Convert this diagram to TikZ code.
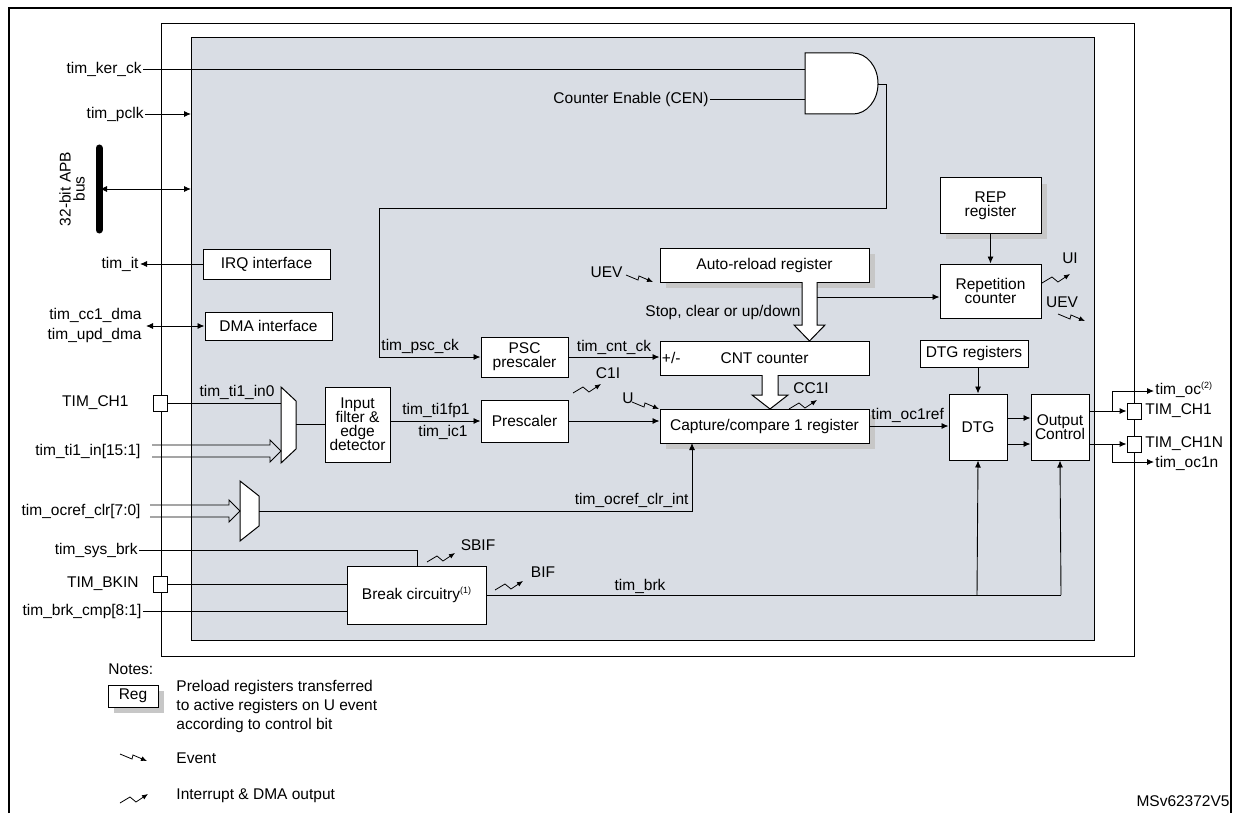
\documentclass[tikz,border=0pt]{standalone}
\usepackage{fontspec}
\setmainfont{Liberation Sans}
\usetikzlibrary{arrows.meta,shadows}
\definecolor{grayfill}{HTML}{D9DDE4}
\newcommand{\supn}[1]{\raisebox{6pt}{\fontsize{9}{9}\selectfont(#1)}}
\begin{document}
\begin{tikzpicture}[x=1pt,y=-1pt,font=\fontsize{15.5}{17}\selectfont,
  line width=0.9pt,
  box/.style={draw,fill=white,align=center,inner sep=1pt,line width=1pt},
  shbox/.style={box,drop shadow={shadow xshift=6pt,shadow yshift=-6pt,fill=black!22,opacity=1}},
  pad/.style={draw,fill=white,minimum width=14pt,minimum height=16pt,inner sep=0pt},
  arr/.style={-{Latex[length=7pt,width=6pt]}},
  lbl/.style={inner sep=1pt},
  evt/.pic={\draw[line width=0.8pt,-{Latex[length=6pt,width=5pt]}] (0,0)--(12,5)--(13,1)--(27,7);},
  irqs/.pic={\draw[line width=0.8pt,-{Latex[length=6pt,width=5pt]}] (0,6)--(10,0)--(16,5)--(28,-3);}
]
\useasboundingbox (0,0) rectangle (1238,813);
% frames
\draw[line width=1.8pt] (9,813)--(9,8)--(1231,8)--(1231,813);
\draw (161,23) rectangle (1134,656);
\draw[fill=grayfill,line width=1pt] (191,38) rectangle (1094,640);

% AND gate
\draw[fill=white,line width=1pt] (805,53)--(853,53) arc[start angle=90,end angle=-90,x radius=25,y radius=-30.5]--(805,114)--cycle;
\coordinate (andout) at (878,84);
\coordinate (andin1) at (805,69);
\coordinate (andin2) at (805,99);

% boxes
\node[box,minimum width=127,minimum height=30] (irq) at (266.5,264) {IRQ interface};
\node[box,minimum width=127,minimum height=28] (dma) at (268.5,326) {DMA interface};
\node[box,minimum width=87,minimum height=40] (psc) at (524.5,357) {PSC\\[-3pt]prescaler};
\node[box,minimum width=65,minimum height=75] (filt) at (357.5,424.5) {Input\\[-3pt]filter \&\\[-3pt]edge\\[-3pt]detector};
\node[box,minimum width=87,minimum height=42] (pre) at (524.5,421) {Prescaler};
\node[shbox,minimum width=209,minimum height=34] (arl) at (764.5,265) {Auto-reload register};
\node[box,minimum width=209,minimum height=34] (cnt) at (764.5,358) {CNT counter};
\node[anchor=west,inner sep=2pt] at (cnt.west) {+/-};
\node[shbox,minimum width=209,minimum height=34] (cap) at (764.5,426) {Capture/compare 1 register};
\node[shbox,minimum width=101,minimum height=55] (rep) at (990.5,205.5) {REP\\[-3pt]register};
\node[box,minimum width=101,minimum height=54] (repc) at (990.5,291) {Repetition\\[-3pt]counter};
\node[box,minimum width=108,minimum height=27] (dtgr) at (974,353.5) {DTG registers};
\node[box,minimum width=58,minimum height=66] (dtg) at (978,427) {DTG};
\node[box,minimum width=58,minimum height=66] (oc) at (1060,427) {Output\\[-3pt]Control};
\node[box,minimum width=139,minimum height=58] (brk) at (416.5,595) {Break circuitry\supn{1}};

% muxes
\draw[fill=white,line width=1pt] (281,387)--(296,401)--(296,449)--(281,463)--cycle;
\coordinate (mux1o) at (296,424);
\draw[fill=white,line width=1pt] (240,481)--(259,496)--(259,526)--(240,541)--cycle;
\coordinate (mux2o) at (259,511);

% left labels
\node[lbl,anchor=east] (lker) at (143,69) {tim\_ker\_ck};
\node[lbl,anchor=east] (lpclk) at (145,114) {tim\_pclk};
\node[lbl,anchor=east] (lit) at (140,264) {tim\_it};
\node[lbl,anchor=east] at (143,315) {tim\_cc1\_dma};
\node[lbl,anchor=east] (ldma) at (143,335) {tim\_upd\_dma};
\node[lbl,anchor=east] at (130,403) {TIM\_CH1};
\node[lbl,anchor=east] at (142,451) {tim\_ti1\_in[15:1]};
\node[lbl,anchor=east] at (142,511) {tim\_ocref\_clr[7:0]};
\node[lbl,anchor=east] (lsys) at (139,550) {tim\_sys\_brk};
\node[lbl,anchor=east] at (140,584) {TIM\_BKIN};
\node[lbl,anchor=east] (lcmp) at (143,611) {tim\_brk\_cmp[8:1]};

% APB bus
\draw[line width=7pt,line cap=round] (99,148)--(99,230);
\node[rotate=90,align=center] at (72,189) {32-bit APB\\[-3pt]bus};
\coordinate (bus) at (100,189);
\coordinate (gl1) at (191,189);
\coordinate (gl0) at (191,114);
\draw[{Latex[length=7pt,width=6pt]}-{Latex[length=7pt,width=6pt]}] (bus)--(gl1);
\draw[arr] (lpclk.east)--(gl0);
\draw (lker.east)--(andin1);
\node[lbl,anchor=east] (cen) at (710,99) {Counter Enable (CEN)};
\draw (cen.east)--(andin2);
\draw[arr] (andout)--(886,84)--(886,208)--(379,208)--(379,357)--(psc.west);
\node[lbl,anchor=south west] at (380,355) {tim\_psc\_ck};
\draw[arr] (irq.west)--(lit.east);
\draw[{Latex[length=7pt,width=6pt]}-{Latex[length=7pt,width=6pt]}] (146,326)--(dma.west);

% TIM_CH1 in
\node[pad] (pch1) at (160,403) {};
\draw (pch1.east)--(281,403);
\node[lbl,anchor=south] at (237,401) {tim\_ti1\_in0};
\draw (152,445)--(270,445)--(270,440)--(281,451)--(270,462)--(270,457)--(152,457);
\draw (mux1o)--(filt.west|-mux1o);
\draw[arr] (filt.east|-pre)--(pre.west);
\node[lbl,anchor=south] at (436,419) {tim\_ti1fp1};
\node[lbl,anchor=north] at (443,424) {tim\_ic1};
\draw[arr] (pre.east)--(cap.west|-pre.east);
\pic at (573,387) {irqs};
\node[lbl] at (608,373) {C1I};
\draw[arr] (psc.east)--(psc.east-|cnt.west);
\node[lbl,anchor=south] at (614,356) {tim\_cnt\_ck};

% ocref clr
\draw (150,505)--(229,505)--(229,500)--(240,511)--(229,522)--(229,517)--(150,517);
\draw[arr] (mux2o)--(692,511)--(692,443);
\node[lbl,anchor=south east] at (690,509) {tim\_ocref\_clr\_int};

% ARR / CNT
\pic at (626,275) {evt};
\node[lbl,anchor=east] at (624,272) {UEV};
\draw[fill=white,line width=1pt] (802,282)--(802,325)--(794,325)--(809.5,341)--(825,325)--(817,325)--(817,282);
\node[lbl,anchor=east] at (802,312) {Stop, clear or up/down};
\draw[arr] (817,297)--(repc.west|-0,297);
\draw[arr] (rep.south)--(repc.north);
\pic at (1042,277) {irqs};
\node[lbl] at (1070,258) {UI};
\node[lbl] at (1062,302) {UEV};
\pic at (1058,314) {evt};
\draw[fill=white,line width=1pt] (762,375)--(762,395)--(752,395)--(770,409)--(788,395)--(778,395)--(778,375);
\pic at (789,403) {irqs};
\node[lbl] at (811,388) {CC1I};
\node[lbl] at (628,398) {U};
\pic at (632,402) {evt};

% capture -> DTG -> OC
\draw[arr] (cap.east)--(dtg.west|-cap.east);
\node[lbl,anchor=south west] at (870,424) {tim\_oc1ref};
\draw[arr] (dtgr.south-|dtg)--(dtg.north);
\draw[arr] (dtg.east|-0,418)--(oc.west|-0,418);
\draw[arr] (dtg.east|-0,444)--(oc.west|-0,444);

% outputs
\node[pad] (p1) at (1134,411) {};
\node[pad] (p2) at (1134,444) {};
\node[lbl,anchor=west] at (1144,411) {TIM\_CH1};
\node[lbl,anchor=west] at (1144,444) {TIM\_CH1N};
\draw[arr] (oc.east|-p1)--(p1.west);
\draw[arr] (oc.east|-p2)--(p2.west);
\draw[arr] (1112,411)--(1112,391)--(1154,391);
\draw[arr] (1112,444)--(1112,462)--(1154,462);
\node[lbl,anchor=west] at (1154,390) {tim\_oc\supn{2}};
\node[lbl,anchor=west] at (1154,463) {tim\_oc1n};

% break
\node[pad] (pbk) at (160,584) {};
\draw (lsys.east)--(417,550)--(417,566);
\draw (pbk.east)--(brk.west|-pbk);
\draw (lcmp.east)--(brk.west|-lcmp);
\pic at (427,556) {irqs};
\node[lbl] at (478,545) {SBIF};
\pic at (495,584) {irqs};
\node[lbl] at (543,572) {BIF};
\draw (brk.east)--(1061,595);
\draw[arr] (977,595)--(dtg.south);
\draw[arr] (1061,595)--(oc.south);
\node[lbl,anchor=south] at (640,595) {tim\_brk};

% notes
\node[anchor=west,inner sep=0pt] at (108,669) {Notes:};
\node[shbox,minimum width=50,minimum height=22] (reg) at (133,696) {Reg};
\node[anchor=north west,align=left,inner sep=0pt,font=\fontsize{15.5}{19}\selectfont] at (176,680) {Preload registers transferred\\to active registers on U event\\according to control bit};
\pic at (120,754) {evt};
\node[anchor=west,inner sep=0pt] at (176,758) {Event};
\pic at (120,797) {irqs};
\node[anchor=west,inner sep=0pt] at (176,796) {Interrupt \& DMA output};
\node[anchor=east,inner sep=0pt] at (1230,801) {MSv62372V5};
\end{tikzpicture}
\end{document}
